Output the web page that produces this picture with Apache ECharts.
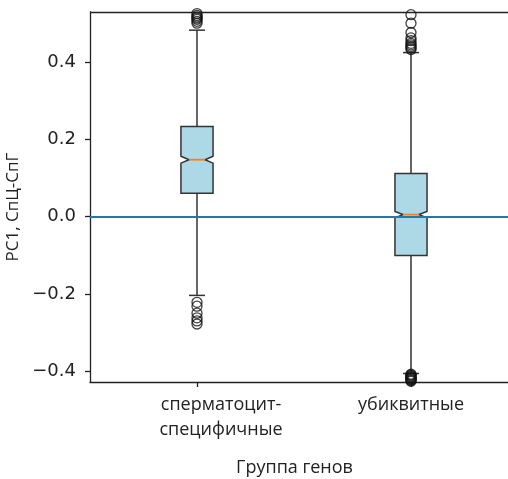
<!DOCTYPE html>
<html>
<head>
<meta charset="utf-8">
<script src="https://cdn.jsdelivr.net/npm/echarts@6/dist/echarts.min.js"></script>
<style>html,body{margin:0;padding:0;background:#fff;overflow:hidden}#c{width:508px;height:479px}</style>
</head>
<body>
<div id="c"></div>
<script>
const categories = ['сперматоцит-\nспецифичные', 'убиквитные'];
const positions = [0, 1];
const whiskerLow = [-0.204, -0.406];
const q1 = [0.060, -0.101];
const median = [0.147, 0.005];
const q3 = [0.233, 0.111];
const whiskerHigh = [0.482, 0.424];
const notchLow = [0.138, -0.003];
const notchHigh = [0.156, 0.013];
const outliersSperm = [0.500, 0.505, 0.510, 0.513, 0.516, 0.520, 0.525, -0.222, -0.232, -0.250, -0.262, -0.270, -0.278];
const outliersUbiq = [0.432, 0.436, 0.440, 0.444, 0.448, 0.455, 0.462, 0.476, 0.500, 0.522,
  -0.408, -0.410, -0.412, -0.414, -0.416, -0.418, -0.420, -0.422, -0.424, -0.426];
const yTicks = [-0.4, -0.2, 0.0, 0.2, 0.4];
const yMin = -0.428, yMax = 0.529;
const zeroLine = 0;

const boxData = positions.map((p, i) => [p, whiskerLow[i], q1[i], median[i], q3[i], whiskerHigh[i], notchLow[i], notchHigh[i]]);
const outlierData = [];
outliersSperm.forEach(v => outlierData.push([positions[0], v]));
outliersUbiq.forEach(v => outlierData.push([positions[1], v]));

const EDGE = '#333';
function renderBox(params, api) {
  const p = api.value(0);
  const x = api.coord([p, 0])[0];
  const unit = api.size([1, 0])[0];
  const hw = unit * 0.075;
  const cw = hw * 0.5;
  const y = v => api.coord([p, v])[1];
  const wl = y(api.value(1)), b1 = y(api.value(2)), md = y(api.value(3)),
        b3 = y(api.value(4)), wh = y(api.value(5)), nl = y(api.value(6)), nh = y(api.value(7));
  const ls = {stroke: EDGE, lineWidth: 1.5};
  const pts = [[x-hw,b1],[x+hw,b1],[x+hw,nl],[x+cw,md],[x+hw,nh],[x+hw,b3],[x-hw,b3],[x-hw,nh],[x-cw,md],[x-hw,nl]];
  return {type: 'group', children: [
    {type: 'line', shape: {x1: x, y1: wl, x2: x, y2: b1}, style: ls},
    {type: 'line', shape: {x1: x, y1: b3, x2: x, y2: wh}, style: ls},
    {type: 'line', shape: {x1: x-cw, y1: wl, x2: x+cw, y2: wl}, style: ls},
    {type: 'line', shape: {x1: x-cw, y1: wh, x2: x+cw, y2: wh}, style: ls},
    {type: 'polygon', shape: {points: pts}, style: {fill: '#ADD8E6', stroke: EDGE, lineWidth: 1.5}},
    {type: 'line', shape: {x1: x-cw, y1: md, x2: x+cw, y2: md}, style: {stroke: '#ff7f0e', lineWidth: 1.8}}
  ]};
}

const AX = '#222';
const chart = echarts.init(document.getElementById('c'), null, {renderer: 'canvas'});
chart.setOption({
  animation: false,
  backgroundColor: '#fff',
  grid: {left: 90, right: 0, top: 12, bottom: 97, outerBoundsMode: 'none', containLabel: false},
  xAxis: {
    type: 'value', min: -0.5, max: 1.4533,
    name: 'Группа генов', nameLocation: 'middle', nameGap: 77,
    nameTextStyle: {fontFamily: 'Open Sans', fontSize: 18, color: AX, padding: [0, 9, 0, 0]},
    splitLine: {show: false},
    axisLine: {onZero: false, lineStyle: {color: AX, width: 1.3}},
    axisTick: {length: 5, customValues: positions, lineStyle: {color: AX, width: 1.3}},
    axisLabel: {customValues: positions, fontFamily: 'Open Sans', fontSize: 18, color: AX, margin: 10, lineHeight: 25,
      formatter: v => {
        const lines = categories[Math.round(v)].split('\n');
        const tag = Math.round(v) === 0 ? 's' : 'n';
        return lines.map(t => '{' + tag + '|' + t + '}').join('\n');
      },
      rich: {
        s: {fontFamily: 'Open Sans', fontSize: 18, color: AX, lineHeight: 25, padding: [0, 0, 0, 48]},
        n: {fontFamily: 'Open Sans', fontSize: 18, color: AX, lineHeight: 25}
      }}
  },
  yAxis: {
    type: 'value', min: yMin, max: yMax,
    name: 'PC1, СпЦ-СпГ', nameLocation: 'middle', nameGap: 62,
    nameTextStyle: {fontFamily: 'Open Sans', fontSize: 17, color: AX, padding: [0, 20, 0, 0]},
    splitLine: {show: false},
    axisLine: {show: true, onZero: false, lineStyle: {color: AX, width: 1.3}},
    axisTick: {show: true, length: 5, customValues: yTicks, lineStyle: {color: AX, width: 1.3}},
    axisLabel: {customValues: yTicks, fontFamily: 'DejaVu Sans', fontSize: 18, color: AX, margin: 14,
      formatter: v => v.toFixed(1).replace('-', '\u2212')}
  },
  series: [
    {type: 'line', data: [], z: 1, clip: false,
     markLine: {silent: true, symbol: 'none', label: {show: false}, precision: 3,
       data: [
         {yAxis: zeroLine, lineStyle: {color: '#1f77b4', width: 2, type: 'solid'}},
         {yAxis: yMax - 0.001, lineStyle: {color: AX, width: 1.3, type: 'solid'}}
       ]}},
    {type: 'custom', renderItem: renderBox, data: boxData, z: 3,
     encode: {x: 0, y: [1, 2, 3, 4, 5, 6, 7]}},
    {type: 'scatter', data: outlierData, symbol: 'circle', symbolSize: 10, z: 4, clip: true,
     itemStyle: {color: 'rgba(0,0,0,0)', borderColor: '#111', borderWidth: 1.3}}
  ]
});
</script>
</body>
</html>
